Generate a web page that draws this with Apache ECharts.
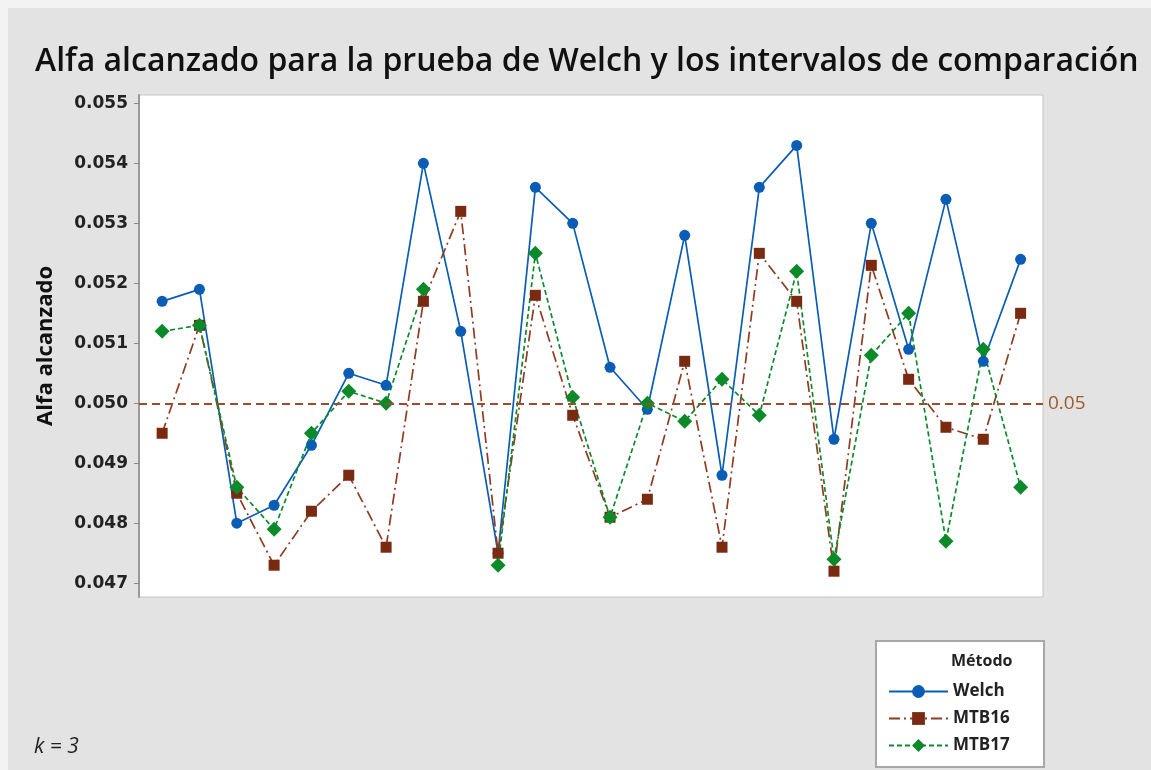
<!DOCTYPE html>
<html><head><meta charset="utf-8">
<script src="https://cdn.jsdelivr.net/npm/echarts@6/dist/echarts.min.js"></script>
<style>
html,body{margin:0;padding:0;background:#f3f3f3;width:1151px;height:770px;overflow:hidden}
#c{position:absolute;left:8px;top:8px;width:1143px;height:762px}
</style>
</head><body><div id="c"></div>
<script>
const xIndex = [1,2,3,4,5,6,7,8,9,10,11,12,13,14,15,16,17,18,19,20,21,22,23,24];
const welch = [0.0517,0.0519,0.0480,0.0483,0.0493,0.0505,0.0503,0.0540,0.0512,0.0475,0.0536,0.0530,0.0506,0.0499,0.0528,0.0488,0.0536,0.0543,0.0494,0.0530,0.0509,0.0534,0.0507,0.0524];
const mtb16 = [0.0495,0.0513,0.0485,0.0473,0.0482,0.0488,0.0476,0.0517,0.0532,0.0475,0.0518,0.0498,0.0481,0.0484,0.0507,0.0476,0.0525,0.0517,0.0472,0.0523,0.0504,0.0496,0.0494,0.0515];
const mtb17 = [0.0512,0.0513,0.0486,0.0479,0.0495,0.0502,0.0500,0.0519,null,0.0473,0.0525,0.0501,0.0481,0.0500,0.0497,0.0504,0.0498,0.0522,0.0474,0.0508,0.0515,0.0477,0.0509,0.0486];
const yTicks = [0.047,0.048,0.049,0.050,0.051,0.052,0.053,0.054,0.055];
const refValue = 0.05;
const seriesNames = ['Welch','MTB16','MTB17'];

const toPairs = arr => xIndex.map((x,i)=>[x, arr[i]]);
const chart = echarts.init(document.getElementById('c'));
const blue = '#0b5cb5', brown = '#7a2a10', brownLine = '#8e3b20', green = '#0b8a2a';
chart.setOption({
  backgroundColor:'#e3e3e3',
  animation:false,
  title:{
    text:'Alfa alcanzado para la prueba de Welch y los intervalos de comparación',
    left:22, top:33,
    textStyle:{fontFamily:'Open Sans', fontWeight:600, fontSize:32, color:'#111'}
  },
  grid:{left:131, top:87, right:108, bottom:173, show:true, backgroundColor:'#fff', borderColor:'#c4c4c4', borderWidth:1},
  xAxis:{type:'value', min:0.38, max:24.6, show:false},
  yAxis:{
    type:'value', min:0.04677, max:0.05514,
    name:'Alfa alcanzado', nameLocation:'middle', nameGap:82, nameRotate:90,
    nameTextStyle:{fontFamily:'Open Sans', fontWeight:'bold', fontSize:22, color:'#111'},
    axisLine:{show:true, lineStyle:{color:'#9a9a9a', width:2}},
    axisTick:{show:true, length:5, customValues:yTicks, lineStyle:{color:'#8a8a8a'}},
    axisLabel:{customValues:yTicks, margin:11, formatter:v=>v.toFixed(3), fontFamily:'DejaVu Sans', fontWeight:'bold', fontSize:17, color:'#222'},
    splitLine:{show:false}
  },
  legend:{
    orient:'vertical', left:875, top:670, itemWidth:59, itemHeight:16, itemGap:10,
    data:seriesNames,
    textStyle:{fontFamily:'Open Sans', fontWeight:'bold', fontSize:17, color:'#222'}
  },
  graphic:[
    {type:'rect', left:867, top:632, z:-1, shape:{width:168, height:126}, style:{fill:'#fff', stroke:'#a8a8a8', lineWidth:2}},
    {type:'text', left:943, top:645, style:{text:'Método', font:'bold 16px "Open Sans"', fill:'#222'}},
    {type:'text', left:26, top:729, style:{text:'k = 3', font:'italic 21px "Open Sans"', fill:'#222'}}
  ],
  series:[
    {name:'Welch', type:'line', data:toPairs(welch), symbol:'circle', symbolSize:11,
     lineStyle:{color:blue, width:1.7}, itemStyle:{color:blue},
     markLine:{silent:true, symbol:'none', data:[{yAxis:refValue}],
       lineStyle:{color:'#9b4b30', type:[8,5], width:2},
       label:{position:'end', distance:5, formatter:'0.05', fontFamily:'Open Sans', fontSize:19, color:'#9c5a2b'}}},
    {name:'MTB16', type:'line', data:toPairs(mtb16), symbol:'rect', symbolSize:11,
     lineStyle:{color:brownLine, width:1.7, type:[11,4,2,4]}, itemStyle:{color:brown}},
    {name:'MTB17', type:'line', data:toPairs(mtb17), symbol:'diamond', symbolSize:15, connectNulls:false,
     lineStyle:{color:green, width:1.7, type:[5,3]}, itemStyle:{color:green}}
  ]
});
</script>
</body></html>
